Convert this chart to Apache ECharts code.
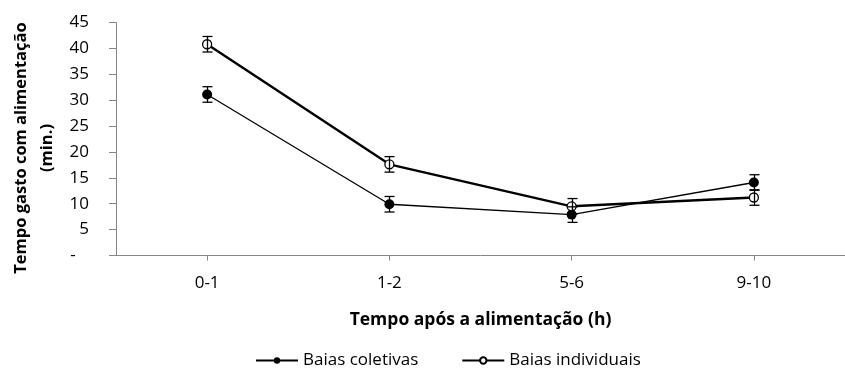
<!DOCTYPE html>
<html>
<head>
<meta charset="utf-8">
<script src="https://cdn.jsdelivr.net/npm/echarts@6/dist/echarts.min.js"></script>
<style>
html,body{margin:0;padding:0;background:#fff;}
#main{width:845px;height:369px;}
</style>
</head>
<body>
<div id="main"></div>
<script>
var categories = ['0-1', '1-2', '5-6', '9-10'];
var coletivas = [31.1, 9.9, 7.9, 14.1];
var coletivasErr = [1.5, 1.5, 1.5, 1.5];
var individuais = [40.8, 17.6, 9.5, 11.2];
var individuaisErr = [1.5, 1.5, 1.5, 1.5];
var yTicks = [0, 5, 10, 15, 20, 25, 30, 35, 40, 45];

var FONT = 'Open Sans';
var chart = echarts.init(document.getElementById('main'));

function errData(vals, errs) {
  return vals.map(function (v, i) { return [i, v - errs[i], v + errs[i]]; });
}
function errRender(params, api) {
  var lo = api.coord([api.value(0), api.value(1)]);
  var hi = api.coord([api.value(0), api.value(2)]);
  var x = Math.round(lo[0]) + 0.5;
  var w = 5;
  var st = { stroke: '#000', lineWidth: 1.3 };
  return {
    type: 'group',
    children: [
      { type: 'line', shape: { x1: x, y1: lo[1], x2: x, y2: hi[1] }, style: st },
      { type: 'line', shape: { x1: x - w, y1: lo[1], x2: x + w, y2: lo[1] }, style: st },
      { type: 'line', shape: { x1: x - w, y1: hi[1], x2: x + w, y2: hi[1] }, style: st }
    ]
  };
}

var option = {
  animation: false,
  textStyle: { fontFamily: FONT },
  grid: { left: 116, right: -7, top: 22.5, bottom: 113.5, containLabel: false },
  legend: {
    top: 347,
    left: 250,
    data: ['Baias coletivas', 'Baias individuais'],
    itemWidth: 42,
    itemHeight: 8,
    itemGap: 43,
    textStyle: { fontFamily: FONT, fontSize: 17, color: '#000' }
  },
  xAxis: {
    type: 'category',
    data: categories,
    boundaryGap: true,
    name: 'Tempo após a alimentação (h)',
    nameLocation: 'middle',
    nameGap: 56,
    nameTextStyle: { fontFamily: FONT, fontSize: 17.5, fontWeight: 'bold', color: '#000' },
    axisLine: { lineStyle: { color: '#868686', width: 1 } },
    axisTick: { show: true, alignWithLabel: true, length: 5, lineStyle: { color: '#868686' } },
    axisLabel: { fontFamily: FONT, fontSize: 17, color: '#000', margin: 19 },
    splitLine: { show: false }
  },
  yAxis: {
    type: 'value',
    min: 0,
    max: 45,
    interval: 5,
    axisLine: { show: true, lineStyle: { color: '#868686', width: 1 } },
    axisTick: { show: true, length: 7, lineStyle: { color: '#868686' } },
    axisLabel: {
      fontFamily: FONT, fontSize: 17, color: '#000', margin: 27,
      formatter: function (v) { return yTicks.indexOf(v) === 0 ? '-   ' : String(v); }
    },
    splitLine: { show: false }
  },
  graphic: [{
    type: 'text',
    x: 34,
    y: 148,
    rotation: Math.PI / 2,
    style: {
      text: 'Tempo gasto com alimentação\n(min.)',
      fontFamily: FONT,
      fontSize: 16.5,
      fontWeight: 'bold',
      fill: '#000',
      align: 'center',
      verticalAlign: 'middle',
      lineHeight: 26
    }
  }],
  series: [
    {
      name: 'Baias coletivas',
      type: 'line',
      data: coletivas,
      symbol: 'circle',
      symbolSize: 10,
      itemStyle: { color: '#000' },
      lineStyle: { color: '#000', width: 1.3 },
      z: 3
    },
    {
      name: 'Baias individuais',
      type: 'line',
      data: individuais,
      symbol: 'circle',
      symbolSize: 9,
      itemStyle: { color: '#fff', borderColor: '#000', borderWidth: 1.3 },
      lineStyle: { color: '#000', width: 2.4 },
      z: 3
    },
    {
      name: 'errColetivas',
      type: 'custom',
      data: errData(coletivas, coletivasErr),
      renderItem: errRender,
      z: 5
    },
    {
      name: 'errIndividuais',
      type: 'custom',
      data: errData(individuais, individuaisErr),
      renderItem: errRender,
      z: 5
    }
  ]
};
chart.setOption(option);
</script>
</body>
</html>
